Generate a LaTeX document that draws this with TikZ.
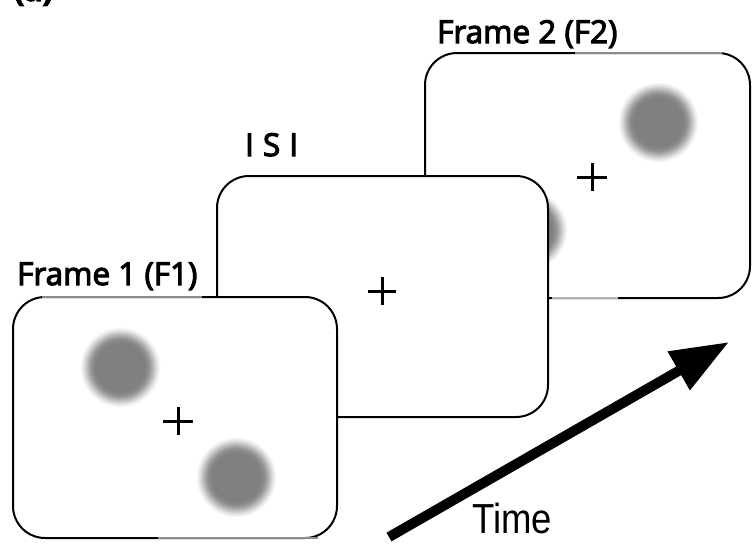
\documentclass[tikz,border=0pt]{standalone}
\usepackage{fontspec}
\setmainfont{Open Sans}[FakeBold=3.5]
\newfontfamily\arialfont{Liberation Sans}
\usetikzlibrary{arrows.meta}
\pgfdeclareradialshading{blobshade}{\pgfpoint{0bp}{0bp}}{color(0bp)=(black!50); color(14.5bp)=(black!50); color(17bp)=(black!44); color(19.5bp)=(black!28); color(22bp)=(black!10); color(24bp)=(white); color(25bp)=(white); color(50bp)=(white)}
\begin{document}
\begin{tikzpicture}[x=1pt,y=-1pt,
  frame/.style={draw=black,fill=white,line width=2pt,rounded corners=32pt,inner sep=0pt},
  blob/.style={circle,shading=blobshade,minimum size=84pt,inner sep=0pt},
  lbl/.style={font=\fontsize{31.5}{31.5}\selectfont,anchor=base west,inner sep=0pt},
  crossmark/.style={line width=3pt},
  artifact/.style={draw=black!45,line width=2.2pt}]
\useasboundingbox (0,0) rectangle (752,544);

% (a) label, mostly cut off at the top
\node[lbl,font=\fontsize{30}{30}\selectfont\bfseries] (lab) at (14,1) {(a)};

% Frame 2
\node[frame,minimum width=325pt,minimum height=245pt] (f2) at (587.5,175.5) {};
\node[blob] (b2a) at (658,122) {};
\node[blob] (b2b) at (527,230) {};
\coordinate (c2) at (592,177);
\draw[crossmark] ([xshift=-15pt]c2) -- ([xshift=15pt]c2) ([yshift=-14pt]c2) -- ([yshift=14pt]c2);
\draw[artifact] (575,53) -- (722,53);
\draw[draw=black!30,line width=2pt] (552,298) -- (618,298);
\node[lbl] (l2) at (437,43) {Frame 2 (F2)};

% ISI frame
\node[frame,minimum width=331pt,minimum height=241pt] (isi) at (382.5,296.5) {};
\coordinate (ci) at (382,291);
\draw[crossmark] ([xshift=-14pt]ci) -- ([xshift=14pt]ci) ([yshift=-14pt]ci) -- ([yshift=14pt]ci);
\node[lbl] (li) at (245,156) {I\hspace{9pt}S\hspace{9pt}I};

% Frame 1
\node[frame,minimum width=324pt,minimum height=241pt] (f1) at (175,417.5) {};
\node[blob] (b1a) at (120,367) {};
\node[blob] (b1b) at (236,477) {};
\coordinate (c1) at (178,421);
\draw[crossmark] ([xshift=-15pt]c1) -- ([xshift=15pt]c1) ([yshift=-14pt]c1) -- ([yshift=14pt]c1);
\draw[artifact] (42,297) -- (202,297);
\draw[artifact] (158,538) -- (318,538);
\node[lbl] (l1) at (17,285) {Frame 1 (F1)};

% Time arrow
\coordinate (tail) at (389,537);
\coordinate (tip) at (729,342);
\draw[line width=10pt,-{Triangle[length=58pt,width=42pt]}] (tail) -- (tip);
\node[anchor=base west,inner sep=0pt] (time) at (472,533) {\arialfont\fontsize{42}{42}\selectfont\scalebox{0.87}[1]{Time}};
\end{tikzpicture}
\end{document}
